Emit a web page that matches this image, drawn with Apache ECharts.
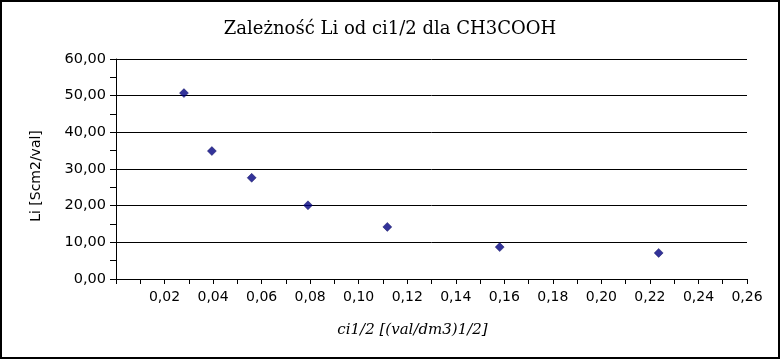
<!DOCTYPE html>
<html>
<head>
<meta charset="utf-8">
<script src="https://cdn.jsdelivr.net/npm/echarts@6/dist/echarts.min.js"></script>
<style>
html,body{margin:0;padding:0;background:#fff;}
#c{width:780px;height:359px;}
</style>
</head>
<body>
<div id="c"></div>
<script>
var titleText = 'Zależność Li od ci1/2 dla CH3COOH';
var xName = 'ci1/2 [(val/dm3)1/2]';
var yName = 'Li [Scm2/val]';
var xValues = [0.028, 0.0395, 0.0559, 0.0791, 0.1118, 0.1581, 0.2236];
var yValues = [50.7, 34.9, 27.6, 20.1, 14.2, 8.7, 7.1];

var points = xValues.map(function (x, i) { return [x, yValues[i]]; });
function fmt(v, d) { return v.toFixed(d).replace('.', ','); }

var chart = echarts.init(document.getElementById('c'));
chart.setOption({
  animation: false,
  backgroundColor: '#fff',
  title: {
    text: titleText,
    left: 'center',
    top: 15,
    textStyle: { fontFamily: 'DejaVu Serif', fontSize: 18, fontWeight: 'normal', color: '#000' }
  },
  grid: { left: 116, right: 33, top: 59, bottom: 80, containLabel: false },
  xAxis: {
    type: 'value',
    min: 0, max: 0.26, interval: 0.01,
    name: xName,
    nameLocation: 'middle',
    nameGap: 44,
    nameTextStyle: { fontFamily: 'DejaVu Serif', fontStyle: 'italic', fontSize: 15, color: '#000', padding: [0, 38, 0, 0] },
    axisLine: { show: true, lineStyle: { color: '#000', width: 1 } },
    axisTick: { show: true, length: 5, inside: false, lineStyle: { color: '#000' } },
    axisLabel: {
      margin: 11,
      fontFamily: 'DejaVu Sans', fontSize: 14, color: '#000',
      formatter: function (v) {
        var k = Math.round(v * 100);
        if (k === 0 || k % 2 !== 0) return '';
        return fmt(v, 2);
      }
    },
    splitLine: { show: false }
  },
  yAxis: {
    type: 'value',
    min: 0, max: 60, interval: 10,
    name: yName,
    nameLocation: 'middle',
    nameGap: 73,
    nameTextStyle: { fontFamily: 'DejaVu Sans', fontSize: 14, color: '#000', padding: [0, 14, 0, 0] },
    axisLine: { show: true, lineStyle: { color: '#000', width: 1 } },
    axisTick: { show: true, length: 6, lineStyle: { color: '#000' } },
    minorTick: { show: true, splitNumber: 2, length: 6, lineStyle: { color: '#000' } },
    axisLabel: {
      margin: 10,
      fontFamily: 'DejaVu Sans', fontSize: 14.5, color: '#000',
      formatter: function (v) { return fmt(v, 2); }
    },
    splitLine: { show: true, lineStyle: { color: '#000', width: 1 } }
  },
  graphic: [{
    type: 'rect',
    shape: { x: 1, y: 1, width: 778, height: 357 },
    style: { fill: 'none', stroke: '#000', lineWidth: 2 },
    silent: true
  }],
  series: [{
    type: 'scatter',
    data: points,
    symbol: 'diamond',
    symbolSize: 9,
    itemStyle: { color: '#000080', borderColor: '#000050', borderWidth: 0.5 }
  }]
});
</script>
</body>
</html>
